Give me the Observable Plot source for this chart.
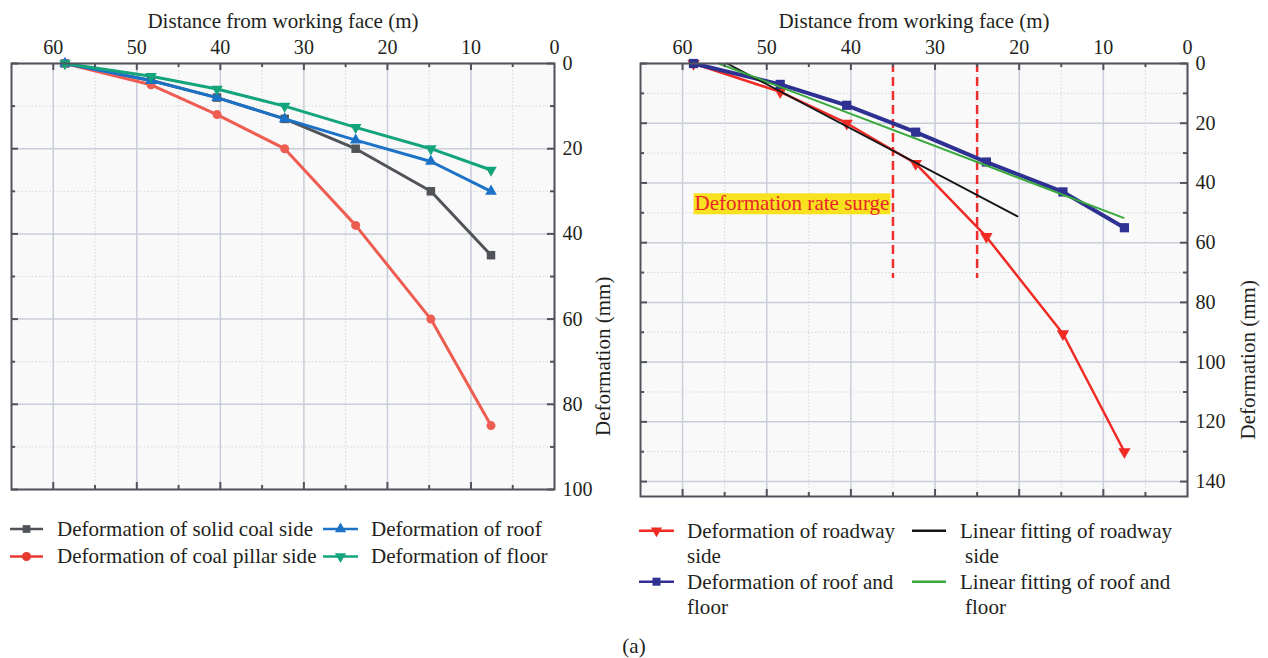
<!DOCTYPE html>
<html><head><meta charset="utf-8">
<script src="https://cdn.jsdelivr.net/npm/d3@7"></script>
<script src="https://cdn.jsdelivr.net/npm/@observablehq/plot@0.6"></script>
<style>
html,body{margin:0;padding:0;background:#fff;}
#root{position:relative;width:1268px;height:658px;overflow:hidden;font-family:"Liberation Serif","DejaVu Serif",serif;color:#231f20;}
</style></head><body><div id="root"></div>
<script>
// ---------- data ----------
const distanceLeft = [58.6, 48.3, 40.4, 32.3, 23.8, 14.8, 7.6];
const solidCoalSide = [0, 4, 8, 13, 20, 30, 45];
const coalPillarSide = [0, 5, 12, 20, 38, 60, 85];
const roofLeft = [0, 4, 8, 13, 18, 23, 30];
const floorLeft = [0, 3, 6, 10, 15, 20, 25];

const distanceRight = [58.7, 48.4, 40.5, 32.3, 23.9, 14.8, 7.5];
const roadwaySide = [0, 9.5, 20, 33.5, 58, 90.5, 130];
const roofAndFloor = [0, 7, 14, 23, 33, 43, 55];
const fitRoadwayX = [54.7, 20.2];
const fitRoadwayY = [0, 51.2];
const fitRoofFloorX = [55.7, 7.6];
const fitRoofFloorY = [0, 51.7];
const surgeX = [35, 25];
const surgeY = [0, 72];
const annotationLabel = ["Deformation rate surge"];
const annotationX = [47];
const annotationY = [46.9];

const xTicks = [60, 50, 40, 30, 20, 10, 0];
const xMinor = [55, 45, 35, 25, 15, 5];
const yTicksLeft = [0, 20, 40, 60, 80, 100];
const yMinorLeft = [10, 30, 50, 70, 90];
const yTicksRight = [0, 20, 40, 60, 80, 100, 120, 140];
const yMinorRight = [10, 30, 50, 70, 90, 110, 130];

const xTitle = "Distance from working face (m)";
const yTitle = "Deformation (mm)";
const caption = "(a)";

// ---------- style ----------
const FONT = '"Liberation Serif", "DejaVu Serif", serif';
const INK = "#231f20";
const AX = "#50545a";

// size the serif font so that text widths match the reference
const measureCtx = document.createElement("canvas").getContext("2d");
measureCtx.font = `21px ${FONT}`;
const kFont = Math.min(1.1, Math.max(0.75, 256 / measureCtx.measureText("Deformation of solid coal side").width));
const FS = +(21 * kFont).toFixed(2);      // legend / titles
const FT = +(20 * kFont).toFixed(2);      // tick labels

const sqrt3 = Math.sqrt(3);
const triangleDown = {
  draw(context, size) {
    const y = -Math.sqrt(size / (sqrt3 * 3));
    context.moveTo(0, -y * 2);
    context.lineTo(-sqrt3 * y, y);
    context.lineTo(sqrt3 * y, y);
    context.closePath();
  }
};

const root = document.getElementById("root");

function scaffold(xMajor, xMin, yMajor, yMin) {
  const dot = {stroke: "#d3d6dc", strokeWidth: 1, strokeDasharray: "1.5,2"};
  const maj = {stroke: "#c9cdd9", strokeWidth: 1.5};
  return [
    Plot.frame({fill: "#f9f9fa"}),
    Plot.ruleX(xMin, dot),
    Plot.ruleY(yMin, dot),
    Plot.ruleX(xMajor, maj),
    Plot.ruleY(yMajor, maj)
  ];
}
function frameTicks(fw, fh, xMajor, xMin, yMajor, yMin) {
  const s = {stroke: AX, strokeWidth: 2};
  return [
    Plot.ruleX(xMajor, {...s, insetBottom: fh - 7}),
    Plot.ruleX(xMajor, {...s, insetTop: fh - 7}),
    Plot.ruleX(xMin, {...s, insetBottom: fh - 4}),
    Plot.ruleX(xMin, {...s, insetTop: fh - 4}),
    Plot.ruleY(yMajor, {...s, insetRight: fw - 7}),
    Plot.ruleY(yMajor, {...s, insetLeft: fw - 7}),
    Plot.ruleY(yMin, {...s, insetRight: fw - 4}),
    Plot.ruleY(yMin, {...s, insetLeft: fw - 4}),
    Plot.frame({stroke: AX, strokeWidth: 2})
  ];
}
function axesAndTitles(yTicks, yTitleDx) {
  return [
    Plot.axisX(xTicks, {anchor: "top", tickSize: 0, tickPadding: 10, fontSize: FT, color: INK, label: null}),
    Plot.axisY(yTicks, {anchor: "right", tickSize: 0, tickPadding: 8, fontSize: FT, color: INK, label: null}),
    Plot.text([xTitle], {text: d => d, frameAnchor: "top", dy: -50, fontSize: FS, fill: INK}),
    Plot.text([yTitle], {text: d => d, frameAnchor: "right", dx: yTitleDx, rotate: -90, fontSize: FS, fill: INK})
  ];
}

// ---------- left chart ----------
const L = {width: 630, height: 500, mL: 11, mR: 76, mT: 63, mB: 11};
const Lfw = L.width - L.mL - L.mR, Lfh = L.height - L.mT - L.mB;
const leftRows = distanceLeft.map((d, i) => ({x: d, solid: solidCoalSide[i], pillar: coalPillarSide[i], roof: roofLeft[i], floor: floorLeft[i]}));
const cGray = "#505458", cSalmon = "#ee5d52", cBlue = "#1b72c6", cTeal = "#14a47c";

const left = Plot.plot({
  width: L.width, height: L.height,
  marginLeft: L.mL, marginRight: L.mR, marginTop: L.mT, marginBottom: L.mB,
  x: {domain: [65, 0]},
  y: {domain: [0, 100], reverse: true},
  style: {fontFamily: FONT, fontSize: FT + "px", color: INK, background: "transparent", overflow: "visible"},
  marks: [
    ...scaffold(xTicks, xMinor, yTicksLeft, yMinorLeft),
    Plot.line(leftRows, {x: "x", y: "solid", stroke: cGray, strokeWidth: 3}),
    Plot.dot(leftRows, {x: "x", y: "solid", symbol: "square", r: 4.8, fill: cGray}),
    Plot.line(leftRows, {x: "x", y: "pillar", stroke: cSalmon, strokeWidth: 3}),
    Plot.dot(leftRows, {x: "x", y: "pillar", symbol: "circle", r: 4.5, fill: cSalmon}),
    Plot.line(leftRows, {x: "x", y: "roof", stroke: cBlue, strokeWidth: 3}),
    Plot.dot(leftRows, {x: "x", y: "roof", symbol: "triangle", r: 4.3, fill: cBlue}),
    Plot.line(leftRows, {x: "x", y: "floor", stroke: cTeal, strokeWidth: 3}),
    Plot.dot(leftRows, {x: "x", y: "floor", symbol: triangleDown, r: 4.3, fill: cTeal}),
    ...frameTicks(Lfw, Lfh, xTicks.filter(d => d > 0), xMinor, yTicksLeft, yMinorLeft),
    ...axesAndTitles(yTicksLeft, 49)
  ]
});
left.style.position = "absolute"; left.style.left = "0px"; left.style.top = "0px";
root.appendChild(left);

// ---------- right chart ----------
const R = {left: 630, width: 638, height: 510, mL: 10, mR: 81, mT: 63, mB: 14};
const Rfw = R.width - R.mL - R.mR, Rfh = R.height - R.mT - R.mB;
const rightRows = distanceRight.map((d, i) => ({x: d, side: roadwaySide[i], rf: roofAndFloor[i]}));
const fitRoadway = fitRoadwayX.map((d, i) => ({x: d, y: fitRoadwayY[i]}));
const fitRoofFloor = fitRoofFloorX.map((d, i) => ({x: d, y: fitRoofFloorY[i]}));
const cRed = "#ef2b24", cNavy = "#2e3192", cBlack = "#151515", cGreen = "#38a93c";

const right = Plot.plot({
  width: R.width, height: R.height,
  marginLeft: R.mL, marginRight: R.mR, marginTop: R.mT, marginBottom: R.mB,
  x: {domain: [65, 0]},
  y: {domain: [0, 145], reverse: true},
  style: {fontFamily: FONT, fontSize: FT + "px", color: INK, background: "transparent", overflow: "visible"},
  marks: [
    ...scaffold(xTicks, xMinor, yTicksRight, yMinorRight),
    Plot.ruleX(surgeX, {y1: surgeY[0], y2: surgeY[1], stroke: "#ee2d2d", strokeWidth: 2.5, strokeDasharray: "9,5"}),
    Plot.line(rightRows, {x: "x", y: "side", stroke: cRed, strokeWidth: 2.5}),
    Plot.dot(rightRows, {x: "x", y: "side", symbol: triangleDown, r: 4.6, fill: cRed}),
    Plot.line(rightRows, {x: "x", y: "rf", stroke: cNavy, strokeWidth: 4}),
    Plot.dot(rightRows, {x: "x", y: "rf", symbol: "square", r: 5.2, fill: cNavy}),
    Plot.line(fitRoadway, {x: "x", y: "y", stroke: cBlack, strokeWidth: 1.8}),
    Plot.line(fitRoofFloor, {x: "x", y: "y", stroke: cGreen, strokeWidth: 2}),
    Plot.text(annotationLabel, {text: d => d, x: () => annotationX[0], y: () => annotationY[0], fontSize: FS, fill: "#e8262a"}),
    ...frameTicks(Rfw, Rfh, xTicks.filter(d => d > 0), xMinor, yTicksRight, yMinorRight),
    ...axesAndTitles(yTicksRight, 61)
  ]
});
right.style.position = "absolute"; right.style.left = R.left + "px"; right.style.top = "0px";
root.appendChild(right);

// yellow highlight behind the annotation
{
  const t = [...right.querySelectorAll("text")].find(e => e.textContent === annotationLabel[0]);
  if (t) {
    const bb = t.getBBox();
    const r = document.createElementNS("http://www.w3.org/2000/svg", "rect");
    r.setAttribute("x", bb.x - 1);
    r.setAttribute("y", bb.y + 2);
    r.setAttribute("width", bb.width + 2);
    r.setAttribute("height", Math.max(0, bb.height - 3));
    r.setAttribute("fill", "#f8e21f");
    if (t.getAttribute("transform")) r.setAttribute("transform", t.getAttribute("transform"));
    t.parentNode.insertBefore(r, t);
  }
}

// ---------- legends & caption ----------
const ov = d3.select(root).append("svg")
  .attr("width", 1268).attr("height", 658)
  .style("position", "absolute").style("left", "0px").style("top", "0px")
  .style("font-family", FONT).style("font-size", FS + "px").attr("fill", INK);

function swatch(x0, x1, cy, color, sw, symbol, size) {
  ov.append("line").attr("x1", x0).attr("x2", x1).attr("y1", cy).attr("y2", cy)
    .attr("stroke", color).attr("stroke-width", sw);
  if (symbol) ov.append("path").attr("transform", `translate(${(x0 + x1) / 2},${cy})`)
    .attr("d", d3.symbol(symbol, size)()).attr("fill", color);
}
function label(x, cy, str) {
  ov.append("text").attr("x", x).attr("y", cy + 0.33 * FS).text(str);
}

// left legend
swatch(10, 43, 529, cGray, 2.5, d3.symbolSquare, 60);
label(57, 529, "Deformation of solid coal side");
swatch(323, 358, 529, cBlue, 2.5, d3.symbolTriangle, 55);
label(371, 529, "Deformation of roof");
swatch(10, 43, 556.5, "#e8392f", 2.5, d3.symbolCircle, 64);
label(57, 556.5, "Deformation of coal pillar side");
swatch(323, 358, 556.5, cTeal, 2.5, triangleDown, 55);
label(371, 556.5, "Deformation of floor");

// right legend
swatch(639, 674, 530.7, cRed, 2.5, triangleDown, 55);
label(687, 530.7, "Deformation of roadway");
label(687, 556, "side");
swatch(912, 946, 530.7, cBlack, 2.5, null);
label(960, 530.7, "Linear fitting of roadway");
label(965, 556, "side");
swatch(639, 674, 581.7, cNavy, 2.5, d3.symbolSquare, 64);
label(687, 581.7, "Deformation of roof and");
label(687, 607.3, "floor");
swatch(912, 946, 581.7, cGreen, 2.5, null);
label(960, 581.7, "Linear fitting of roof and");
label(965, 607.3, "floor");

ov.append("text").attr("x", 634).attr("y", 645.7 + 0.33 * FS).attr("text-anchor", "middle").text(caption);
</script>
</body></html>
